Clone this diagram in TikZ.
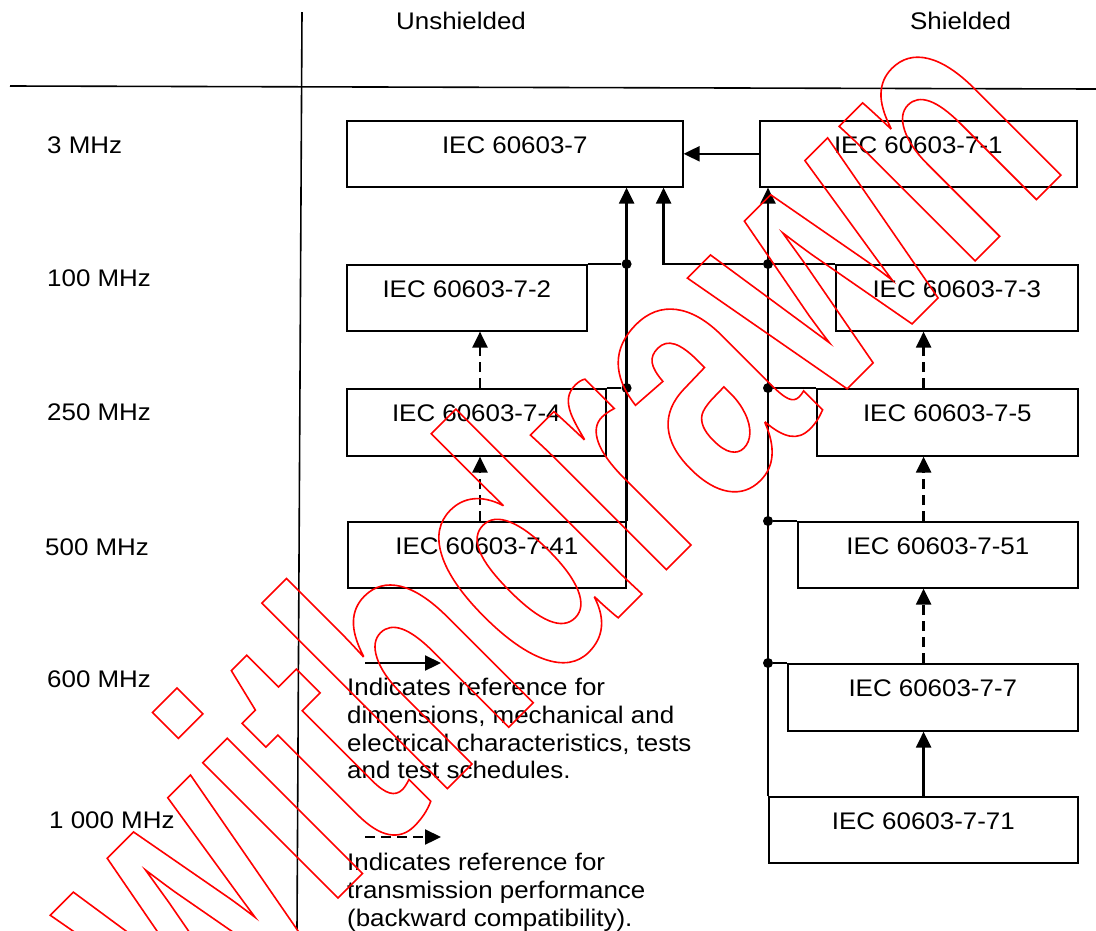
\documentclass[tikz,border=0pt]{standalone}
\usepackage{fontspec}
\setmainfont{Liberation Sans}[FakeStretch=1.08]
\newfontfamily\wmfont{Liberation Sans}[FakeStretch=0.70]
\usetikzlibrary{arrows.meta}
\tikzset{
  box/.style={draw, line width=1.6pt, inner sep=0pt, anchor=north west},
  lbl/.style={inner sep=0pt, anchor=base, font=\fontsize{24}{28}\selectfont},
  txt/.style={inner sep=0pt, anchor=base west, font=\fontsize{24}{28}\selectfont},
  thin/.style={line width=1.6pt},
  conn/.style={line width=2.3pt},
  arr/.style={conn, -{Triangle[length=16pt,width=15pt]}},
  darr/.style={arr, dash pattern=on 10pt off 6pt},
  dot/.style={circle, fill, inner sep=0pt, minimum size=10pt},
  wm/.style={rotate=45, anchor=base, inner sep=0pt, text=red,
    font=\wmfont\bfseries\fontsize{362}{362}\selectfont},
}
\begin{document}
\begin{tikzpicture}[x=1pt,y=-1pt]
\useasboundingbox (0,0) rectangle (1096,930);
% frame lines
\draw[thin] (302,12) -- (297,930);
\draw[thin] (10,86) -- (1096,89);
% headers
\node[txt] (hu) at (396,29) {Unshielded};
\node[txt] (hs) at (910,29) {Shielded};
% row labels
\node[txt] (r1) at (47,153) {3 MHz};
\node[txt] (r2) at (47,286) {100 MHz};
\node[txt] (r3) at (47,420) {250 MHz};
\node[txt] (r4) at (45,555) {500 MHz};
\node[txt] (r5) at (47,687) {600 MHz};
\node[txt] (r6) at (49,828) {1 000 MHz};
% boxes
\node[box, minimum width=336pt, minimum height=66pt] (b7) at (346,120) {};
\node[box, minimum width=317pt, minimum height=66pt] (b71) at (759,120) {};
\node[box, minimum width=240pt, minimum height=66pt] (b72) at (346,264) {};
\node[box, minimum width=259pt, minimum height=67pt] (b74) at (346,388) {};
\node[box, minimum width=278pt, minimum height=66pt] (b741) at (347,521) {};
\node[box, minimum width=242pt, minimum height=66pt] (b73) at (835,264) {};
\node[box, minimum width=261pt, minimum height=67pt] (b75) at (816,388) {};
\node[box, minimum width=280pt, minimum height=66pt] (b751) at (797,521) {};
\node[box, minimum width=290pt, minimum height=67pt] (b77) at (787,663) {};
\node[box, minimum width=309pt, minimum height=66pt] (b771) at (768,796) {};
% box labels
\node[lbl] (t7) at ([yshift=-33pt]b7.north) {IEC 60603-7};
\node[lbl] (t71) at ([yshift=-33pt]b71.north) {IEC 60603-7-1};
\node[lbl] (t72) at ([yshift=-33pt]b72.north) {IEC 60603-7-2};
\node[lbl] (t74) at ([yshift=-33pt]b74.north) {IEC 60603-7-4};
\node[lbl] (t741) at ([yshift=-33pt]b741.north) {IEC 60603-7-41};
\node[lbl] (t73) at ([yshift=-33pt]b73.north) {IEC 60603-7-3};
\node[lbl] (t75) at ([yshift=-33pt]b75.north) {IEC 60603-7-5};
\node[lbl] (t751) at ([yshift=-33pt]b751.north) {IEC 60603-7-51};
\node[lbl] (t77) at ([yshift=-33pt]b77.north) {IEC 60603-7-7};
\node[lbl] (t771) at ([yshift=-33pt]b771.north) {IEC 60603-7-71};
% unshielded trunk
\draw[arr] (b741.north east) -- (b741.north east |- b7.south);
\node[dot] (du1) at (b741.north east |- b72.north) {};
\node[dot] (du2) at (b741.north east |- b74.north) {};
\draw[thin] (b72.north east) -- (du1);
\draw[thin] (b74.north east) -- (du2);
% shielded trunk
\draw[arr] (b771.north west) -- (b771.north west |- b71.south);
\node[dot] (ds1) at (b771.north west |- b73.north) {};
\node[dot] (ds2) at (b771.north west |- b75.north) {};
\node[dot] (ds3) at (b771.north west |- b751.north) {};
\node[dot] (ds4) at (b771.north west |- b77.north) {};
\draw[thin] (ds1) -- (b73.north west);
\draw[thin] (ds2) -- (b75.north west);
\draw[thin] (ds3) -- (b751.north west);
\draw[thin] (ds4) -- (b77.north west);
\draw[arr] (ds1) -| ([xshift=-20pt]b7.south east);
% horizontal reference
\draw[arr] (b71.west) -- (b7.east);
% dashed references
\draw[darr] ([xshift=134pt]b74.north west) -- ([xshift=134pt]b72.south west);
\draw[darr] ([xshift=133pt]b741.north west) -- ([xshift=134pt]b74.south west);
\draw[darr] ([xshift=-155pt]b75.north east) -- ([xshift=-155pt]b73.south east);
\draw[darr] ([xshift=-155pt]b751.north east) -- ([xshift=-155pt]b75.south east);
\draw[darr] ([xshift=-155pt]b77.north east) -- ([xshift=-155pt]b751.south east);
\draw[arr] ([xshift=-155pt]b771.north east) -- ([xshift=-155pt]b77.south east);
% legend
\coordinate (la1) at (365,663);
\coordinate (la2) at (441,663);
\draw[arr] (la1) -- (la2);
\node[txt] (l11) at (347,695) {Indicates reference for};
\node[txt] (l12) at (347,723) {dimensions, mechanical and};
\node[txt] (l13) at (347,751) {electrical characteristics, tests};
\node[txt] (l14) at (347,778) {and test schedules.};
\coordinate (lb1) at (365,837);
\coordinate (lb2) at (441,837);
\draw[darr] (lb1) -- (lb2);
\node[txt] (l21) at (347,870) {Indicates reference for};
\node[txt] (l22) at (347,898) {transmission performance};
\node[txt] (l23) at (347,926) {(backward compatibility).};
% watermark
\node[wm] (wmk) at (629,607) {\special{pdf:literal direct 1 0 0 RG 1.6 w 1 Tr}withdrawn\special{pdf:literal direct 0 Tr}};
\end{tikzpicture}
\end{document}
